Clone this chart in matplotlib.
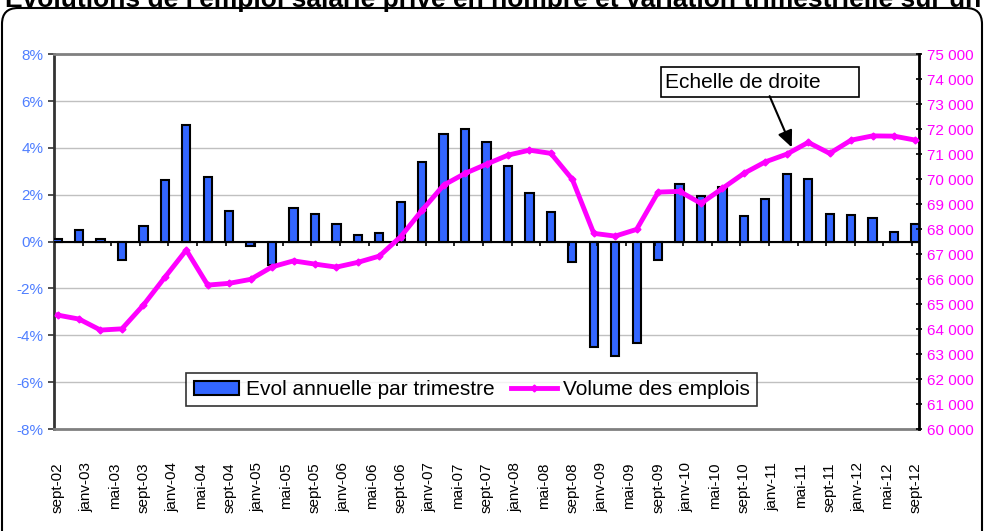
import numpy as np
import matplotlib
matplotlib.use("Agg")
import matplotlib.pyplot as plt
from matplotlib.patches import FancyBboxPatch, Rectangle
from matplotlib.ticker import FuncFormatter

plt.rcParams['font.family'] = ['Liberation Sans', 'DejaVu Sans']

# quarterly data, sept-02 -> sept-12
evol = [0.10, 0.48, 0.10, -0.77, 0.67, 2.64, 4.97, 2.76, 1.29, -0.19,
        -0.98, 1.45, 1.19, 0.77, 0.30, 0.37, 1.68, 3.41, 4.59, 4.82,
        4.24, 3.23, 2.06, 1.26, -0.85, -4.48, -4.89, -4.34, -0.79, 2.47,
        1.93, 2.33, 1.09, 1.80, 2.90, 2.69, 1.18, 1.14, 1.02, 0.40, 0.77]
volume = [64560, 64400, 63960, 64010, 64960, 66070, 67160, 65760, 65830, 65990,
          66490, 66730, 66600, 66480, 66670, 66920, 67700, 68760, 69760, 70230,
          70600, 70960, 71160, 71030, 69990, 67830, 67720, 67990, 69480, 69510,
          69030, 69630, 70230, 70690, 71000, 71470, 71030, 71560, 71730, 71720, 71560]
tick_labels = ['sept-02', 'janv-03', 'mai-03', 'sept-03', 'janv-04', 'mai-04',
               'sept-04', 'janv-05', 'mai-05', 'sept-05', 'janv-06', 'mai-06',
               'sept-06', 'janv-07', 'mai-07', 'sept-07', 'janv-08', 'mai-08',
               'sept-08', 'janv-09', 'mai-09', 'sept-09', 'janv-10', 'mai-10',
               'sept-10', 'janv-11', 'mai-11', 'sept-11', 'janv-12', 'mai-12',
               'sept-12']
title = "Evolutions de l'emploi salarié privé en nombre et variation trimestrielle sur un an"

# x positions in months from sept-02
x = np.arange(len(evol)) * 3
xt = np.arange(len(tick_labels)) * 4

fig = plt.figure(figsize=(9.84, 5.31), dpi=100)
ax = fig.add_axes([0.0549, 0.192, 0.8791, 0.706])

bars = ax.bar(x, evol, width=1.16, color='#3366FF', edgecolor='black',
              linewidth=1.5, zorder=3, label='Evol annuelle par trimestre')

ax.set_xlim(-0.5, 120.5)
ax.set_ylim(-8, 8)
ax.set_yticks(np.arange(-8, 9, 2))
ax.yaxis.set_major_formatter(FuncFormatter(lambda v, p: f'{v:.0f}%'))
ax.tick_params(axis='y', colors='#333333', labelcolor='#4F7FFF',
               labelsize=11, length=4, width=1.2, direction='out')
ax.grid(axis='y', color='#C0C0C0', linewidth=1, zorder=0)

ax.set_xticks(xt)
ax.set_xticklabels(tick_labels, rotation=90, fontsize=11, va='top')
ax.tick_params(axis='x', length=0, pad=24)

# horizontal axis at 0 with its tick marks
ax.axhline(0, color='black', linewidth=1.5, zorder=4)
ax.vlines(xt[1:] - 0.5, -0.17, 0, color='black', linewidth=1.2, zorder=4)

for s in ['top', 'bottom']:
    ax.spines[s].set_color('#808080')
    ax.spines[s].set_linewidth(2)
ax.spines['left'].set_color('#333333')
ax.spines['left'].set_linewidth(2)

ax2 = ax.twinx()
line, = ax2.plot(x, volume, color='#FF00FF', linewidth=3.5, marker='D',
                 markersize=3.5, label='Volume des emplois', zorder=5)
ax2.set_ylim(60000, 75000)
ax2.set_yticks(np.arange(60000, 75001, 1000))
ax2.yaxis.set_major_formatter(
    FuncFormatter(lambda v, p: f'{int(v):,}'.replace(',', ' ')))
ax2.tick_params(axis='y', colors='black', labelcolor='#FF00FF',
                labelsize=11, length=4, width=1.2, direction='inout')
ax2.spines['right'].set_color('black')
ax2.spines['right'].set_linewidth(2)
for s in ['top', 'bottom', 'left']:
    ax2.spines[s].set_visible(False)

# "Echelle de droite" text box with arrow
ax2.add_patch(Rectangle((84.4, 73280), 27.7, 1200, facecolor='white',
                        edgecolor='black', linewidth=1.2, zorder=6))
ax2.text(84.95, 73880, 'Echelle de droite', fontsize=15, ha='left',
         va='center', zorder=7)
ax2.annotate('', xy=(102.7, 71270), xytext=(99.6, 73320),
             arrowprops=dict(arrowstyle='-|>,head_length=1.0,head_width=0.45',
                             color='black', lw=1.5, shrinkA=0, shrinkB=0),
             zorder=7)

leg = ax2.legend([bars, line], ['Evol annuelle par trimestre', 'Volume des emplois'],
                 loc='center', bbox_to_anchor=(0.483, 0.105), ncol=2,
                 fontsize=15, frameon=True, fancybox=False, edgecolor='black',
                 handlelength=2.2, handletextpad=0.3, columnspacing=0.8,
                 borderpad=0.35, borderaxespad=0)
leg.get_frame().set_linewidth(1.2)

fig.text(5 / 984, 1 - 6.5 / 531, title, fontsize=19, fontweight='bold',
         ha='left', va='baseline')

border = FancyBboxPatch((0.02, -0.5), 9.80, 5.23 + 0.5,
                        boxstyle='round,pad=0,rounding_size=0.16',
                        transform=fig.dpi_scale_trans, fill=False,
                        edgecolor='black', linewidth=1.5)
fig.add_artist(border)

fig.savefig('out.png', dpi=100)
